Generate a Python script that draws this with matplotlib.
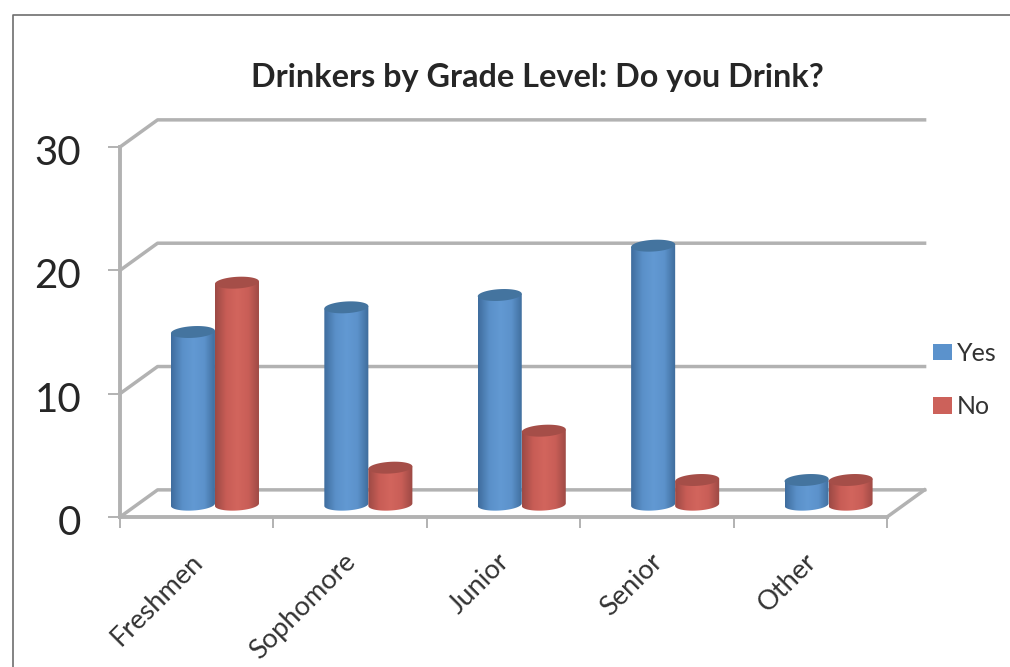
import numpy as np
import matplotlib
matplotlib.use('Agg')
import matplotlib.pyplot as plt
from matplotlib.colors import LinearSegmentedColormap
from matplotlib.lines import Line2D
from matplotlib.patches import Patch, PathPatch, Polygon
from matplotlib.path import Path
from matplotlib.transforms import ScaledTranslation

categories = ['Freshmen', 'Sophomore', 'Junior', 'Senior', 'Other']
yes_values = [14, 16, 17, 21, 2]
no_values = [18, 3, 6, 2, 2]
y_ticks = [0, 10, 20, 30]

plt.rcParams['font.family'] = ['Lato', 'DejaVu Sans']

W, H = 1010, 667
GRAY = '#b2b2b2'
DEPTH_X, DEPTH_Y = 0.245, 2.2    # back wall offset, in data units
BAR_DX, BAR_BASE = 0.119, 1.0    # bars stand in the middle of the floor
BAR_W = 0.287
CAP_H, CAP_TILT = 0.95, 0.1

blue_cmap = LinearSegmentedColormap.from_list('blue', ['#3f6d9e', '#5a90c8', '#6299d3', '#5c92cb', '#3e6c9b'])
red_cmap = LinearSegmentedColormap.from_list('red', ['#9d4a45', '#c85d56', '#d2655d', '#c95e57', '#9c4944'])
blue_top = '#44749f'
red_top = '#a54e48'

fig = plt.figure(figsize=(W / 100, H / 100), dpi=100)
ax = fig.add_axes([120 / W, 1 - 517 / H, 767 / W, 370 / H])
ax.patch.set_alpha(0)

# outer frame, only top and left edges show
fig.add_artist(Line2D([13 / W, 13 / W, 1], [0, 1 - 15 / H, 1 - 15 / H], color='#6e6e6e', lw=1.2))


def draw_cylinder(x, value, cmap, top_color):
    t = np.linspace(0, np.pi, 40)
    left, right = x - BAR_W / 2, x + BAR_W / 2
    top = BAR_BASE + value
    # lower rim goes right to left along the front of the ellipse
    low_x = x + BAR_W / 2 * np.cos(t)
    low_y = BAR_BASE - CAP_H / 2 * np.sin(t) + CAP_TILT * np.cos(t)
    verts = np.vstack([[[right, top + CAP_TILT]], np.column_stack([low_x, low_y]), [[left, top - CAP_TILT]]])
    body = PathPatch(Path(verts), facecolor='none', edgecolor='none', transform=ax.transData)
    ax.add_patch(body)
    im = ax.imshow(np.linspace(0, 1, 64).reshape(1, -1), cmap=cmap, aspect='auto', zorder=3,
                   extent=[left, right, BAR_BASE - CAP_H, top + CAP_H], interpolation='bilinear')
    im.set_clip_path(body)
    t = np.linspace(0, 2 * np.pi, 60)
    cap = np.column_stack([x + BAR_W / 2 * np.cos(t), top + CAP_H / 2 * np.sin(t) + CAP_TILT * np.cos(t)])
    ax.add_patch(Polygon(cap, closed=True, facecolor=top_color, edgecolor='none', zorder=3))


# back wall gridlines with their diagonals to the front plane
for v in y_ticks:
    ax.plot([0, DEPTH_X, 5 + DEPTH_X], [v, v + DEPTH_Y, v + DEPTH_Y], color=GRAY, lw=2.5, clip_on=False, zorder=1)
ax.plot([5, 5 + DEPTH_X], [0, DEPTH_Y], color=GRAY, lw=2.5, clip_on=False, zorder=1)

for i in range(len(categories)):
    center = i + 0.5 + BAR_DX
    draw_cylinder(center - BAR_W / 2, yes_values[i], blue_cmap, blue_top)
    draw_cylinder(center + BAR_W / 2, no_values[i], red_cmap, red_top)

ax.set_xlim(0, 5)
ax.set_ylim(0, 30)

for side in ['top', 'right']:
    ax.spines[side].set_visible(False)
for side in ['left', 'bottom']:
    ax.spines[side].set_color(GRAY)
    ax.spines[side].set_linewidth(2.8)

ax.set_yticks(y_ticks)
ax.tick_params(axis='y', length=9, width=1.4, color=GRAY, labelsize=29, labelcolor='#262626', pad=19)
# tick numbers sit a little below their ticks
for label in ax.get_yticklabels():
    label.set_transform(label.get_transform() + ScaledTranslation(0, -3 / 100, fig.dpi_scale_trans))
ax.set_xticks(np.arange(0, 6))
ax.set_xticklabels([])
ax.tick_params(axis='x', which='major', length=8, width=1.4, color=GRAY)
ax.set_xticks(np.arange(5) + 0.5, minor=True)
ax.set_xticklabels(categories, minor=True, rotation=45, ha='right', va='top', rotation_mode='anchor',
                   fontsize=19.6, color='#333333')
ax.tick_params(axis='x', which='minor', length=0, pad=23)
for label in ax.get_xticklabels(minor=True):
    label.set_transform(label.get_transform() + ScaledTranslation(-7 / 100, 0, fig.dpi_scale_trans))

fig.text(537 / W, 1 - 78 / H, 'Drinkers by Grade Level: Do you Drink?', ha='center', va='center',
         fontsize=23.3, fontweight='bold', color='#262626')

handles = [Patch(facecolor='#5b92cc', label='Yes'), Patch(facecolor='#cc615a', label='No')]
fig.legend(handles=handles, loc='center left', bbox_to_anchor=(910 / W, 1 - 380 / H), frameon=False,
           fontsize=18, handlelength=0.76, handleheight=0.62, handletextpad=0.22, labelspacing=1.22,
           labelcolor='#333333')

fig.savefig('out.png', dpi=100)
